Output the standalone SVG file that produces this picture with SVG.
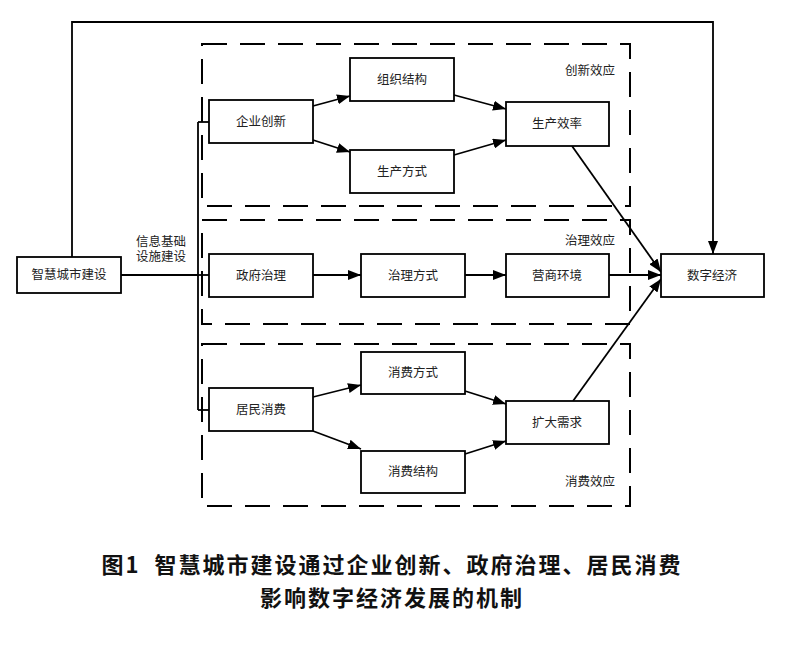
<svg xmlns="http://www.w3.org/2000/svg" width="800" height="670" viewBox="0 0 800 670">
<defs>
<marker id="ah" viewBox="0 0 13 10" refX="13" refY="5" markerWidth="13" markerHeight="10" markerUnits="userSpaceOnUse" orient="auto">
<path d="M0,0 L13,5 L0,10 Z" fill="#000"/>
</marker>
<style>
.node rect{fill:#fff;stroke:#000;stroke-width:1.8}
.node text{font-family:"Liberation Sans","Noto Sans CJK SC",sans-serif;font-size:12.5px;fill:#222;text-anchor:middle;dominant-baseline:central}
.dash{fill:none;stroke:#000;stroke-width:2;stroke-dasharray:25 13}
.conn line,.conn polyline{fill:none;stroke:#000;stroke-width:1.8}
.arr{marker-end:url(#ah)}
.lbl{font-family:"Liberation Sans","Noto Sans CJK SC",sans-serif;font-size:12.5px;fill:#222}
.cap{font-family:"Noto Sans CJK SC",sans-serif;font-size:22px;font-weight:bold;fill:#111;text-anchor:middle;letter-spacing:2px}
</style>
</defs>
<rect width="800" height="670" fill="#fff"/>

<g id="groups">
<rect class="dash" x="202" y="44" width="428" height="162"/>
<rect class="dash" x="202" y="220" width="428" height="104"/>
<rect class="dash" x="202" y="344" width="428" height="162"/>
<text class="lbl" x="590" y="75" text-anchor="middle">创新效应</text>
<text class="lbl" x="590" y="245" text-anchor="middle">治理效应</text>
<text class="lbl" x="590" y="486" text-anchor="middle">消费效应</text>
</g>

<g class="conn" id="connectors">
<polyline points="72,257 72,22 713,22 713,254" class="arr"/>
<line x1="121" y1="275" x2="198" y2="275"/>
<line x1="198" y1="122" x2="198" y2="410"/>
<line x1="198" y1="122" x2="209" y2="122"/>
<line x1="198" y1="275" x2="209" y2="275"/>
<line x1="198" y1="410" x2="209" y2="410"/>
<line x1="313" y1="106" x2="350" y2="96" class="arr"/>
<line x1="313" y1="140" x2="350" y2="152" class="arr"/>
<line x1="454" y1="95" x2="506" y2="109" class="arr"/>
<line x1="454" y1="155" x2="506" y2="140" class="arr"/>
<line x1="572" y1="146" x2="661" y2="272" class="arr"/>
<line x1="313" y1="275" x2="361" y2="275" class="arr"/>
<line x1="465" y1="275" x2="506" y2="275" class="arr"/>
<line x1="609" y1="275" x2="661" y2="275" class="arr"/>
<line x1="573" y1="401" x2="661" y2="279" class="arr"/>
<line x1="313" y1="397" x2="361" y2="385" class="arr"/>
<line x1="313" y1="431" x2="361" y2="449" class="arr"/>
<line x1="465" y1="391" x2="506" y2="404" class="arr"/>
<line x1="465" y1="454" x2="506" y2="441" class="arr"/>
</g>
<text class="lbl" x="161" y="246" text-anchor="middle">信息基础</text>
<text class="lbl" x="161" y="261" text-anchor="middle">设施建设</text>

<g id="n_smart" class="node"><rect x="17" y="257" width="104" height="36"/><text x="69" y="275">智慧城市建设</text></g>
<g id="n_qycx" class="node"><rect x="209" y="100" width="104" height="43"/><text x="261" y="122">企业创新</text></g>
<g id="n_zzjg" class="node"><rect x="350" y="58" width="104" height="43"/><text x="402" y="80">组织结构</text></g>
<g id="n_scfs" class="node"><rect x="350" y="150" width="104" height="43"/><text x="402" y="172">生产方式</text></g>
<g id="n_sxl" class="node"><rect x="506" y="102" width="103" height="44"/><text x="557" y="124">生产效率</text></g>
<g id="n_zfzl" class="node"><rect x="209" y="254" width="104" height="43"/><text x="261" y="276">政府治理</text></g>
<g id="n_zlfs" class="node"><rect x="361" y="254" width="104" height="43"/><text x="413" y="276">治理方式</text></g>
<g id="n_yshj" class="node"><rect x="506" y="254" width="103" height="43"/><text x="557" y="276">营商环境</text></g>
<g id="n_szjj" class="node"><rect x="661" y="254" width="103" height="43"/><text x="712" y="276">数字经济</text></g>
<g id="n_jmxf" class="node"><rect x="209" y="388" width="104" height="43"/><text x="261" y="410">居民消费</text></g>
<g id="n_xffs" class="node"><rect x="361" y="352" width="104" height="42"/><text x="413" y="373">消费方式</text></g>
<g id="n_xfjg" class="node"><rect x="361" y="451" width="104" height="42"/><text x="413" y="472">消费结构</text></g>
<g id="n_kdxq" class="node"><rect x="506" y="401" width="103" height="43"/><text x="557" y="423">扩大需求</text></g>

<text class="cap" x="392" y="573" xml:space="preserve">图1  智慧城市建设通过企业创新、政府治理、居民消费</text>
<text class="cap" x="392" y="606">影响数字经济发展的机制</text>
</svg>
